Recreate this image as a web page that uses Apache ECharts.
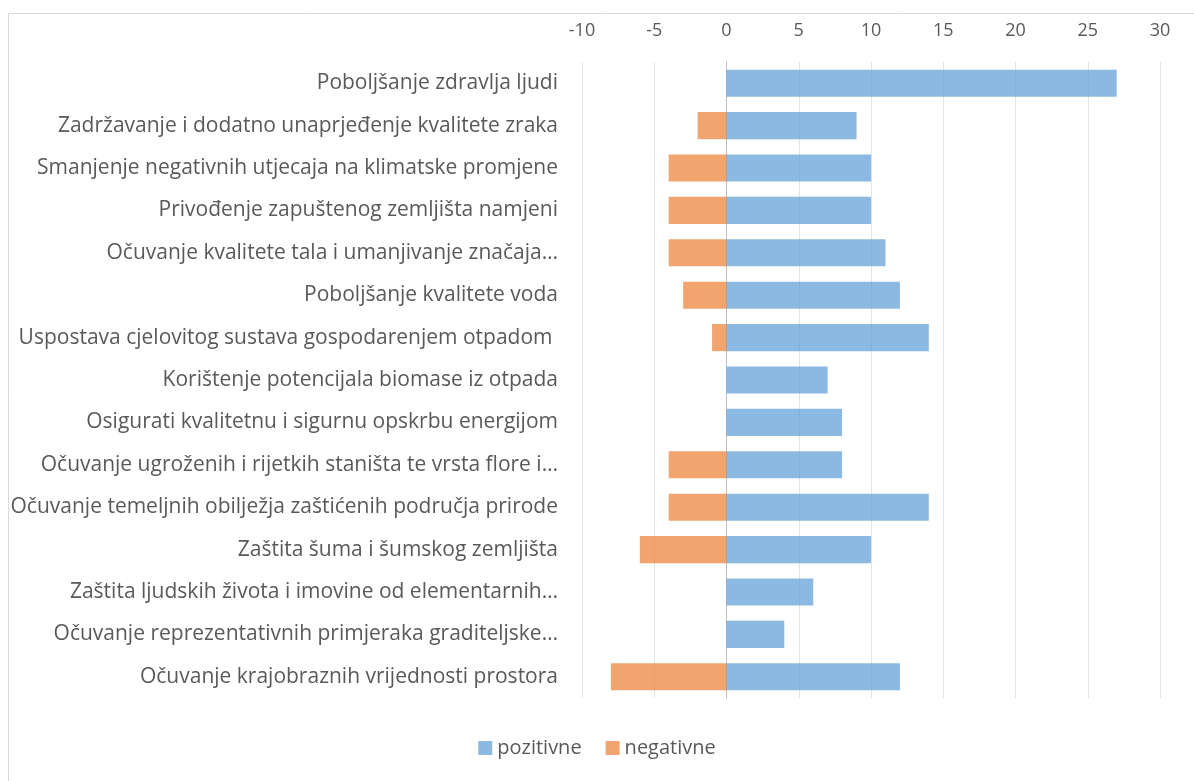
<!DOCTYPE html>
<html>
<head>
<meta charset="utf-8">
<script src="https://cdn.jsdelivr.net/npm/echarts@6/dist/echarts.min.js"></script>
<style>
  html, body { margin: 0; padding: 0; background: #fff; }
  #chart { width: 1194px; height: 781px; }
</style>
</head>
<body>
<div id="chart"></div>
<script>
// kategorije (odozgo prema dolje)
var categories = [
    'Poboljšanje zdravlja ljudi',
    'Zadržavanje i dodatno unaprjeđenje kvalitete zraka',
    'Smanjenje negativnih utjecaja na klimatske promjene',
    'Privođenje zapuštenog zemljišta namjeni',
    'Očuvanje kvalitete tala i umanjivanje značaja…',
    'Poboljšanje kvalitete voda',
    'Uspostava cjelovitog sustava gospodarenjem otpadom ',
    'Korištenje potencijala biomase iz otpada',
    'Osigurati kvalitetnu i sigurnu opskrbu energijom',
    'Očuvanje ugroženih i rijetkih staništa te vrsta flore i…',
    'Očuvanje temeljnih obilježja zaštićenih područja prirode',
    'Zaštita šuma i šumskog zemljišta',
    'Zaštita ljudskih života i imovine od elementarnih…',
    'Očuvanje reprezentativnih primjeraka graditeljske…',
    'Očuvanje krajobraznih vrijednosti prostora'
];
var pozitivne = [27, 9, 10, 10, 11, 12, 14, 7, 8, 8, 14, 10, 6, 4, 12];
var negativne = [0, -2, -4, -4, -4, -3, -1, 0, 0, -4, -4, -6, 0, 0, -8];
var xTicks = { min: -10, max: 30, interval: 5 };

var font = '"Open Sans", Lato, sans-serif';
var chart = echarts.init(document.getElementById('chart'));

chart.setOption({
    animation: false,
    textStyle: { fontFamily: font },
    graphic: [{
        type: 'rect',
        shape: { x: 8.5, y: 13.5, width: 1200, height: 800 },
        style: { fill: 'none', stroke: '#d9d9d9', lineWidth: 1 },
        silent: true
    }],
    legend: {
        bottom: 18,
        left: 'center',
        itemWidth: 14,
        itemHeight: 14,
        itemGap: 24,
        icon: 'rect',
        textStyle: { fontSize: 20, color: '#595959', fontFamily: font },
        data: ['pozitivne', 'negativne']
    },
    grid: {
        left: 582,
        right: 34,
        top: 62,
        bottom: 83,
        containLabel: false
    },
    xAxis: {
        type: 'value',
        position: 'top',
        min: xTicks.min,
        max: xTicks.max,
        interval: xTicks.interval,
        axisLine: { show: false },
        axisTick: { show: false },
        axisLabel: { fontSize: 18, color: '#595959', margin: 22, fontFamily: font },
        splitLine: { lineStyle: { color: '#e3e3e3' } }
    },
    yAxis: {
        type: 'category',
        inverse: true,
        data: categories,
        axisLine: { onZero: true, lineStyle: { color: '#bfbfbf' } },
        axisTick: { show: false },
        axisLabel: { fontSize: 21, color: '#595959', margin: 0, fontFamily: font, align: 'right',
            padding: [0, 24, 0, 0]
        }
    },
    series: [{
        name: 'pozitivne',
        type: 'bar',
        data: pozitivne,
        barWidth: '64%',
        barGap: '-100%',
        itemStyle: { color: 'rgba(91,155,213,0.7)' }
    }, {
        name: 'negativne',
        type: 'bar',
        data: negativne,
        barWidth: '64%',
        itemStyle: { color: 'rgba(237,125,49,0.7)' }
    }]
});
</script>
</body>
</html>
